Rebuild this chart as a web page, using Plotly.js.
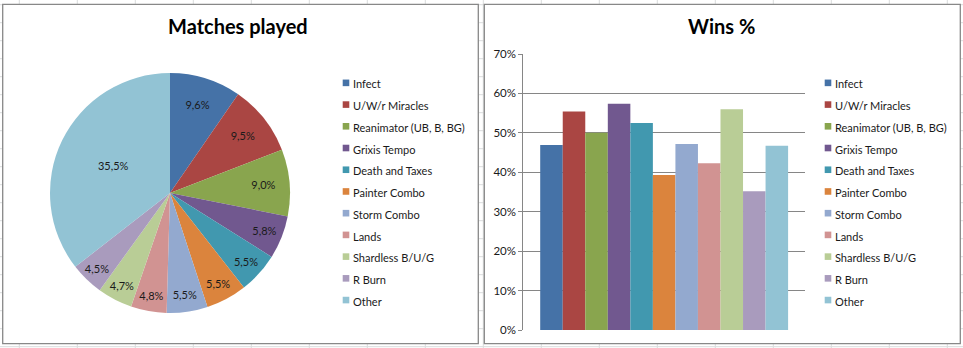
<!DOCTYPE html>
<html>
<head>
<meta charset="utf-8">
<script src="https://cdn.plot.ly/plotly-3.0.1.min.js"></script>
<style>
  html, body { margin: 0; padding: 0; background: #fff; }
  #chart { width: 963px; height: 348px; }
  g.legendpoints path { transform: translate(33px, 0px) scale(0.55) !important; }
</style>
</head>
<body>
<div id="chart"></div>
<script>
// ---- Data ----
const categories = ['Infect', 'U/W/r Miracles', 'Reanimator (UB, B, BG)', 'Grixis Tempo',
  'Death and Taxes', 'Painter Combo', 'Storm Combo', 'Lands', 'Shardless B/U/G', 'R Burn', 'Other'];
const matchesPlayed = [9.6, 9.5, 9.0, 5.8, 5.5, 5.5, 5.5, 4.8, 4.7, 4.5, 35.5];
const winsPct = [0.469, 0.554, 0.500, 0.574, 0.525, 0.393, 0.472, 0.423, 0.560, 0.352, 0.467];
const colors = ['#4572A7', '#AA4643', '#89A54E', '#71588F', '#4198AF', '#DB843D',
  '#93A9CF', '#D19392', '#B9CD96', '#A99BBD', '#92C3D4'];
const yTickVals = [0, 0.1, 0.2, 0.3, 0.4, 0.5, 0.6, 0.7];
const titles = ['Matches played', 'Wins %'];

// ---- Geometry helpers (pixel -> paper) ----
const W = 963, H = 348;
const px = v => v / W;
const py = v => 1 - v / H;
const FONT = 'Lato, "Open Sans", sans-serif';
const legendLabel = s => '<span style="font-size:11px">' + s + '</span>';

const traces = [];
traces.push({
  type: 'pie',
  labels: categories.map(legendLabel),
  values: matchesPlayed,
  sort: false,
  direction: 'clockwise',
  rotation: 0,
  marker: { colors: colors, line: { width: 0 } },
  texttemplate: '%{value:.1f}%',
  textposition: 'inside',
  insidetextorientation: 'horizontal',
  textfont: { family: FONT, size: 11, color: '#1a1a1a' },
  hoverinfo: 'skip',
  domain: { x: [px(50), px(290)], y: [py(313), py(73)] },
  legend: 'legend'
});
categories.forEach((c, i) => {
  traces.push({
    type: 'bar',
    x: [''],
    y: [winsPct[i]],
    name: legendLabel(c),
    marker: { color: colors[i], line: { width: 0 } },
    hoverinfo: 'skip',
    legend: 'legend2'
  });
});

// background spreadsheet grid
const shapes = [];
for (let x = 19.3; x < W; x += 58) {
  shapes.push({ type: 'line', xref: 'paper', yref: 'paper', x0: px(x), x1: px(x), y0: 0, y1: 1,
    line: { color: '#dadcdd', width: 1 }, layer: 'below' });
}
for (let y = 4.7; y < H; y += 18) {
  shapes.push({ type: 'line', xref: 'paper', yref: 'paper', x0: 0, x1: 1, y0: py(y), y1: py(y),
    line: { color: '#dadcdd', width: 1 }, layer: 'below' });
}
// chart frames
[[2.7, 478.3], [484.3, 960.3]].forEach(([a, b]) => {
  shapes.push({ type: 'rect', xref: 'paper', yref: 'paper', x0: px(a), x1: px(b), y0: py(343.7), y1: py(4.3),
    line: { color: '#888888', width: 1.3 }, fillcolor: '#ffffff', layer: 'below' });
});

const legendCommon = {
  font: { family: FONT, size: 14.4, color: '#1a1a1a' },
  bgcolor: 'rgba(0,0,0,0)', borderwidth: 0,
  xanchor: 'left', yanchor: 'top', traceorder: 'normal', itemclick: false, itemdoubleclick: false
};

const layout = {
  width: W, height: H,
  margin: { l: 0, r: 0, t: 0, b: 0, pad: 0 },
  paper_bgcolor: '#ffffff',
  plot_bgcolor: 'rgba(0,0,0,0)',
  separators: ',.',
  font: { family: FONT, color: '#1a1a1a' },
  showlegend: true,
  barmode: 'group',
  bargap: 0.12,
  bargroupgap: 0,
  xaxis: {
    domain: [px(523.3), px(805)],
    showticklabels: false, ticks: '', showgrid: false, zeroline: false, showline: false,
    fixedrange: true
  },
  yaxis: {
    domain: [py(330), py(54)],
    range: [0, 0.7],
    tickvals: yTickVals,
    tickformat: '.0%',
    showgrid: true, gridcolor: '#868686', gridwidth: 1,
    zeroline: false,
    showline: true, linecolor: '#868686', linewidth: 1,
    ticks: 'outside', ticklen: 4, tickcolor: '#868686', tickwidth: 1,
    tickfont: { family: FONT, size: 11.5, color: '#1a1a1a' },
    fixedrange: true
  },
  legend: Object.assign({}, legendCommon, { x: px(313), y: py(67) }),
  legend2: Object.assign({}, legendCommon, { x: px(795), y: py(67) }),
  annotations: [
    { text: '<b>' + titles[0] + '</b>', xref: 'paper', yref: 'paper', x: px(238), y: py(26),
      xanchor: 'center', yanchor: 'middle', showarrow: false, font: { family: FONT, size: 20, color: '#000' } },
    { text: '<b>' + titles[1] + '</b>', xref: 'paper', yref: 'paper', x: px(721), y: py(26),
      xanchor: 'center', yanchor: 'middle', showarrow: false, font: { family: FONT, size: 20, color: '#000' } }
  ],
  shapes: shapes
};

Plotly.newPlot('chart', traces, layout, { displayModeBar: false, staticPlot: true });
</script>
</body>
</html>
